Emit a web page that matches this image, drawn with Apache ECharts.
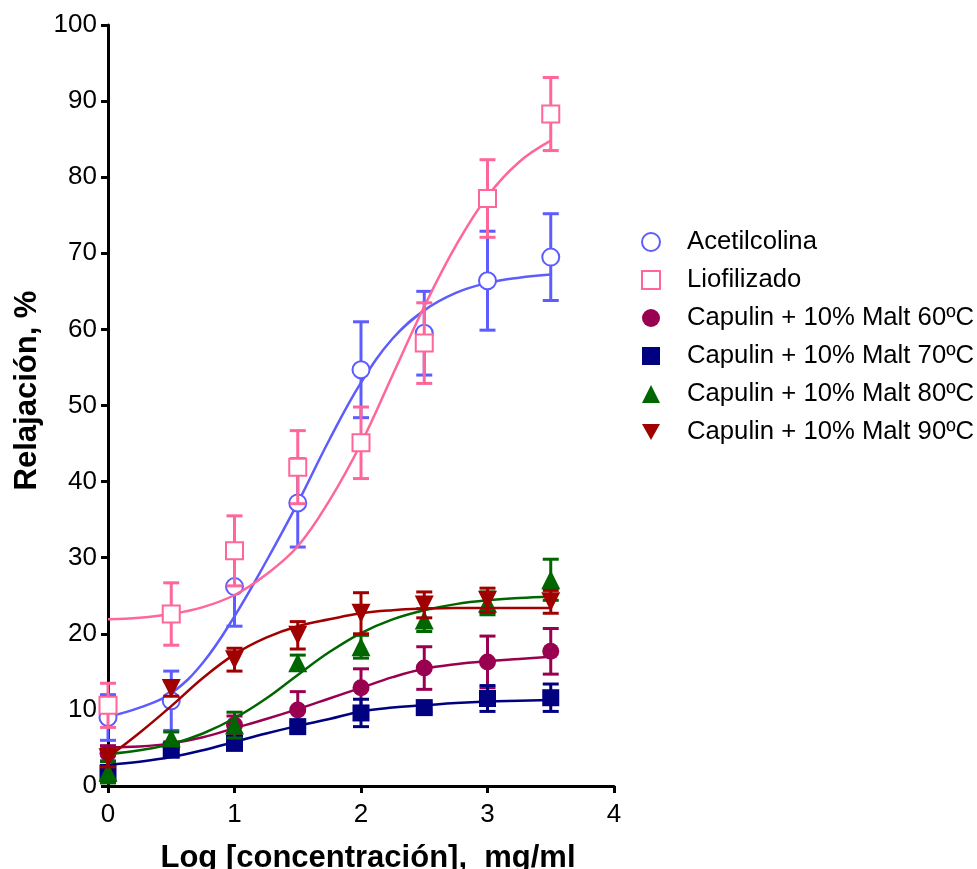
<!DOCTYPE html>
<html>
<head>
<meta charset="utf-8">
<script src="https://cdn.jsdelivr.net/npm/echarts@6/dist/echarts.min.js"></script>
<style>
  html, body { margin: 0; padding: 0; background: #fff; }
  #chart { width: 977px; height: 869px; }
</style>
</head>
<body>
<div id="chart"></div>
<script>
// log concentration of the measured points
var logConc = [0, 0.5, 1, 1.5, 2, 2.5, 3, 3.5]

// mean relaxation (%) and error (+/-) per group
var acetilMean = [9.0, 11.2, 26.2, 37.2, 54.7, 59.5, 66.4, 69.5]
var acetilErr = [3.0, 3.9, 5.2, 5.8, 6.3, 5.5, 6.5, 5.7]
var liofMean = [10.6, 22.6, 30.9, 41.9, 45.1, 58.2, 77.2, 88.3]
var liofErr = [2.9, 4.1, 4.6, 4.8, 4.7, 5.3, 5.1, 4.8]
var malt60Mean = [4.3, 5.0, 8.0, 10.0, 12.9, 15.5, 16.3, 17.7]
var malt60Err = [1.0, 0.8, 1.2, 2.4, 2.5, 2.8, 3.4, 3.0]
var malt70Mean = [1.7, 4.7, 5.6, 7.8, 9.6, 10.3, 11.5, 11.6]
var malt70Err = [1.0, 0.8, 0.8, 0.6, 1.8, 0.6, 1.7, 1.8]
var malt80Mean = [1.8, 6.3, 8.0, 16.2, 18.3, 21.8, 24.0, 27.1]
var malt80Err = [1.4, 0.8, 1.7, 1.0, 1.5, 1.5, 1.5, 2.7]
var malt90Mean = [3.7, 12.8, 16.6, 19.8, 22.7, 23.8, 24.4, 24.2]
var malt90Err = [1.2, 1.0, 1.5, 1.8, 2.7, 1.7, 1.6, 1.5]

// fitted curves, every 0.25 log units
var fitX = [0, 0.25, 0.5, 0.75, 1, 1.25, 1.5, 1.75, 2, 2.25, 2.5, 2.75, 3, 3.25, 3.5]
var acetilFit = [9.1, 10.3, 12.2, 16.2, 22.3, 29.5, 37.2, 45.5, 53.0, 58.8, 62.5, 64.8, 66.1, 66.8, 67.2]
var liofFit = [21.9, 22.1, 22.6, 23.5, 25.1, 27.8, 31.5, 37.5, 45.0, 54.0, 63.0, 71.0, 77.5, 82.0, 84.8]
var malt60Fit = [5.1, 5.2, 5.6, 6.4, 7.6, 8.8, 10.1, 11.5, 12.9, 14.3, 15.4, 16.0, 16.4, 16.7, 17.0]
var malt70Fit = [2.8, 3.2, 3.8, 4.7, 5.8, 6.9, 7.9, 8.8, 9.8, 10.3, 10.6, 10.9, 11.1, 11.2, 11.3]
var malt80Fit = [4.2, 4.7, 5.5, 6.9, 8.9, 11.5, 14.6, 17.6, 20.1, 21.9, 23.1, 23.9, 24.4, 24.7, 24.9]
var malt90Fit = [3.8, 7.0, 10.5, 14.2, 17.3, 19.5, 21.0, 21.9, 22.7, 23.1, 23.3, 23.4, 23.4, 23.4, 23.4]

var xTicks = [0, 1, 2, 3, 4]
var yTicks = [0, 10, 20, 30, 40, 50, 60, 70, 80, 90, 100]

var FONT = 'Liberation Sans, Arial, sans-serif'
var TRI_DOWN = 'path://M0,0L20,0L10,18Z'

var groups = [
  { name: 'Acetilcolina', color: '#5c5cff', mean: acetilMean, err: acetilErr, fit: acetilFit, symbol: 'emptyCircle', rot: 0 },
  { name: 'Liofilizado', color: '#ff6699', mean: liofMean, err: liofErr, fit: liofFit, symbol: 'emptyRect', rot: 0 },
  { name: 'Capulin + 10% Malt 60ºC', color: '#990050', mean: malt60Mean, err: malt60Err, fit: malt60Fit, symbol: 'circle', rot: 0 },
  { name: 'Capulin + 10% Malt 70ºC', color: '#000080', mean: malt70Mean, err: malt70Err, fit: malt70Fit, symbol: 'rect', rot: 0 },
  { name: 'Capulin + 10% Malt 80ºC', color: '#006600', mean: malt80Mean, err: malt80Err, fit: malt80Fit, symbol: 'triangle', rot: 0 },
  { name: 'Capulin + 10% Malt 90ºC', color: '#a00000', mean: malt90Mean, err: malt90Err, fit: malt90Fit, symbol: 'triangle', rot: 180 }
]

function errorBars(api, params, color) {
  var x = api.value(0)
  var lo = api.coord([x, api.value(1)])
  var hi = api.coord([x, api.value(2)])
  var half = 8
  var style = { stroke: color, lineWidth: 3 }
  return {
    type: 'group',
    children: [
      { type: 'line', shape: { x1: lo[0], y1: lo[1], x2: hi[0], y2: hi[1] }, style: style },
      { type: 'line', shape: { x1: lo[0] - half, y1: lo[1], x2: lo[0] + half, y2: lo[1] }, style: style },
      { type: 'line', shape: { x1: hi[0] - half, y1: hi[1], x2: hi[0] + half, y2: hi[1] }, style: style }
    ]
  }
}

var series = []
groups.forEach(function (g, gi) {
  series.push({
    name: g.name + ' fit',
    type: 'line',
    smooth: 0.4,
    showSymbol: false,
    silent: true,
    z: 2 + gi * 3,
    lineStyle: { color: g.color, width: 2.5 },
    data: fitX.map(function (x, i) { return [x, g.fit[i]] })
  })
  series.push({
    name: g.name + ' err',
    type: 'custom',
    silent: true,
    z: 3 + gi * 3,
    renderItem: function (params, api) { return errorBars(api, params, g.color) },
    data: logConc.map(function (x, i) { return [x, g.mean[i] - g.err[i], g.mean[i] + g.err[i]] })
  })
  series.push({
    name: g.name,
    type: 'scatter',
    z: 4 + gi * 3,
    symbol: g.symbol,
    symbolRotate: g.rot,
    symbolSize: g.symbol === 'triangle' ? 19 : 17,
    itemStyle: { color: g.color, borderColor: g.color, borderWidth: g.symbol.indexOf('empty') === 0 ? 3 : 0, opacity: 1 },
    data: logConc.map(function (x, i) { return [x, g.mean[i]] })
  })
})

var chart = echarts.init(document.getElementById('chart'))
chart.setOption({
  animation: false,
  backgroundColor: '#fff',
  textStyle: { fontFamily: FONT },
  grid: { left: 108, right: 363, top: 25, bottom: 83, containLabel: false, outerBoundsMode: 'none' },
  legend: {
    orient: 'vertical',
    left: 641,
    top: 229,
    padding: 0,
    itemWidth: 18,
    itemHeight: 18,
    itemGap: 12,
    selectedMode: false,
    data: groups.map(function (g) {
      return g.rot === 180 ? { name: g.name, icon: TRI_DOWN } : g.name
    }),
    textStyle: { fontFamily: FONT, fontSize: 25.7, color: '#000', lineHeight: 26, padding: [0, 0, 0, 22] }
  },
  xAxis: {
    type: 'value',
    min: xTicks[0],
    max: xTicks[xTicks.length - 1],
    interval: 1,
    name: 'Log [concentración],  mg/ml',
    nameLocation: 'middle',
    nameGap: 57,
    nameTextStyle: { fontFamily: FONT, fontSize: 31, fontWeight: 'bold', color: '#000', padding: [0, 0, 0, 14] },
    axisLine: { onZero: false, lineStyle: { color: '#000', width: 3 } },
    axisTick: { length: 7, lineStyle: { color: '#000', width: 3 } },
    axisLabel: { fontFamily: FONT, fontSize: 26, color: '#000', margin: 16 },
    splitLine: { show: false }
  },
  yAxis: {
    type: 'value',
    min: yTicks[0],
    max: yTicks[yTicks.length - 1],
    interval: 10,
    name: 'Relajación, %',
    nameLocation: 'middle',
    nameGap: 65,
    nameTextStyle: { fontFamily: FONT, fontSize: 31, fontWeight: 'bold', color: '#000', padding: [0, 0, 0, 30] },
    axisLine: { onZero: false, lineStyle: { color: '#000', width: 3 } },
    axisTick: { length: 7, lineStyle: { color: '#000', width: 3 } },
    axisLabel: { fontFamily: FONT, fontSize: 26, color: '#000', margin: 11 },
    splitLine: { show: false }
  },
  series: series
})
</script>
</body>
</html>
